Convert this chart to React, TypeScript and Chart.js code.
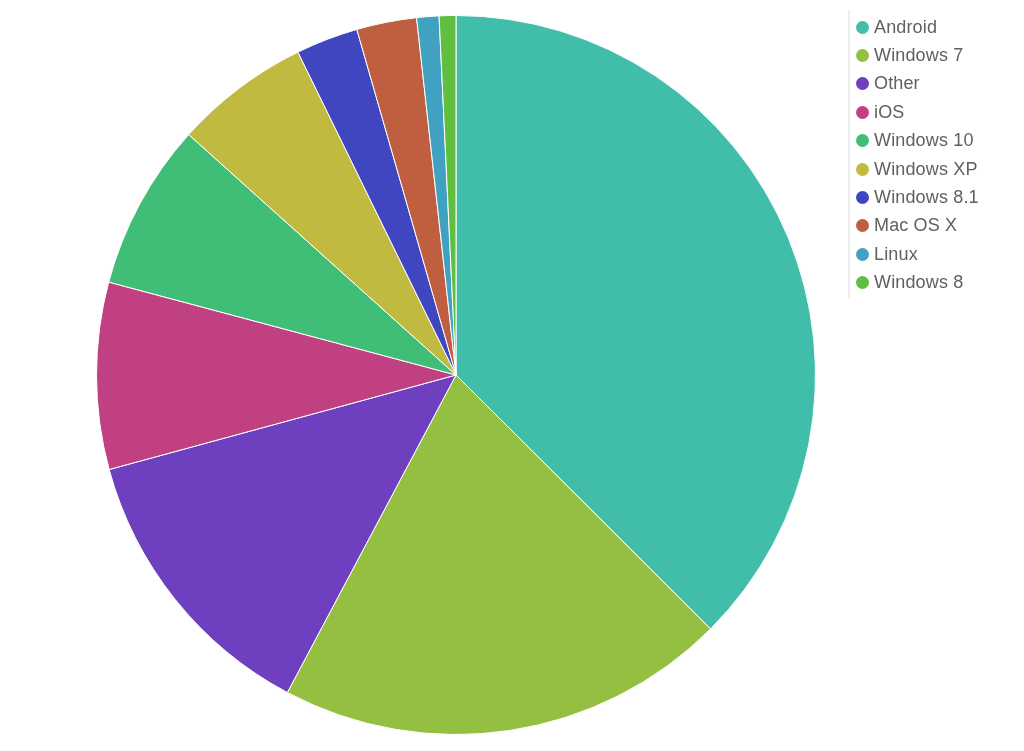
import React, { useEffect, useRef } from "react";
import { Chart, registerables } from "chart.js";

Chart.register(...registerables);

const labels = ["Android", "Windows 7", "Other", "iOS", "Windows 10", "Windows XP", "Windows 8.1", "Mac OS X", "Linux", "Windows 8"];
const values = [37.5, 20.3, 13.0, 8.4, 7.5, 6.1, 2.8, 2.7, 1.0, 0.75];
const colors = ["#40BEAA", "#95BF41", "#6E40C0", "#C04082", "#40BE78", "#C0BA40", "#4046C0", "#C05E40", "#40A2C0", "#62BE40"];

export default function App() {
  const ref = useRef<HTMLCanvasElement | null>(null);
  useEffect(() => {
    if (!ref.current) return;
    const chart = new Chart(ref.current, {
      type: "pie",
      data: {
        labels,
        datasets: [{ data: values, backgroundColor: colors, borderColor: "#ffffff", borderWidth: 1 }],
      },
      options: {
        animation: false,
        responsive: false,
        layout: { padding: { left: 88, right: 200, top: 7, bottom: 8 } },
        plugins: { legend: { display: false }, tooltip: { enabled: false } },
      },
    });
    return () => chart.destroy();
  }, []);
  return (
    <div style={{ position: "relative", width: 1008, height: 735 }}>
      <canvas ref={ref} width={1008} height={735} style={{ display: "block" }} />
      <div
        style={{
          position: "absolute",
          left: 840,
          top: 2,
          borderLeft: "2px solid #eeeeee",
          paddingLeft: 6,
          paddingTop: 3,
          paddingBottom: 2,
          fontFamily: "'Liberation Sans', Arial, sans-serif",
          fontSize: 18,
          letterSpacing: 0.15,
          color: "#606060",
        }}
      >
        {labels.map((l, i) => (
          <div key={l} style={{ display: "flex", alignItems: "center", height: 28.4, whiteSpace: "nowrap" }}>
            <span
              style={{
                display: "inline-block",
                width: 13,
                height: 13,
                borderRadius: "50%",
                background: colors[i],
                marginRight: 5,
              }}
            />
            <span>{l}</span>
          </div>
        ))}
      </div>
    </div>
  );
}
